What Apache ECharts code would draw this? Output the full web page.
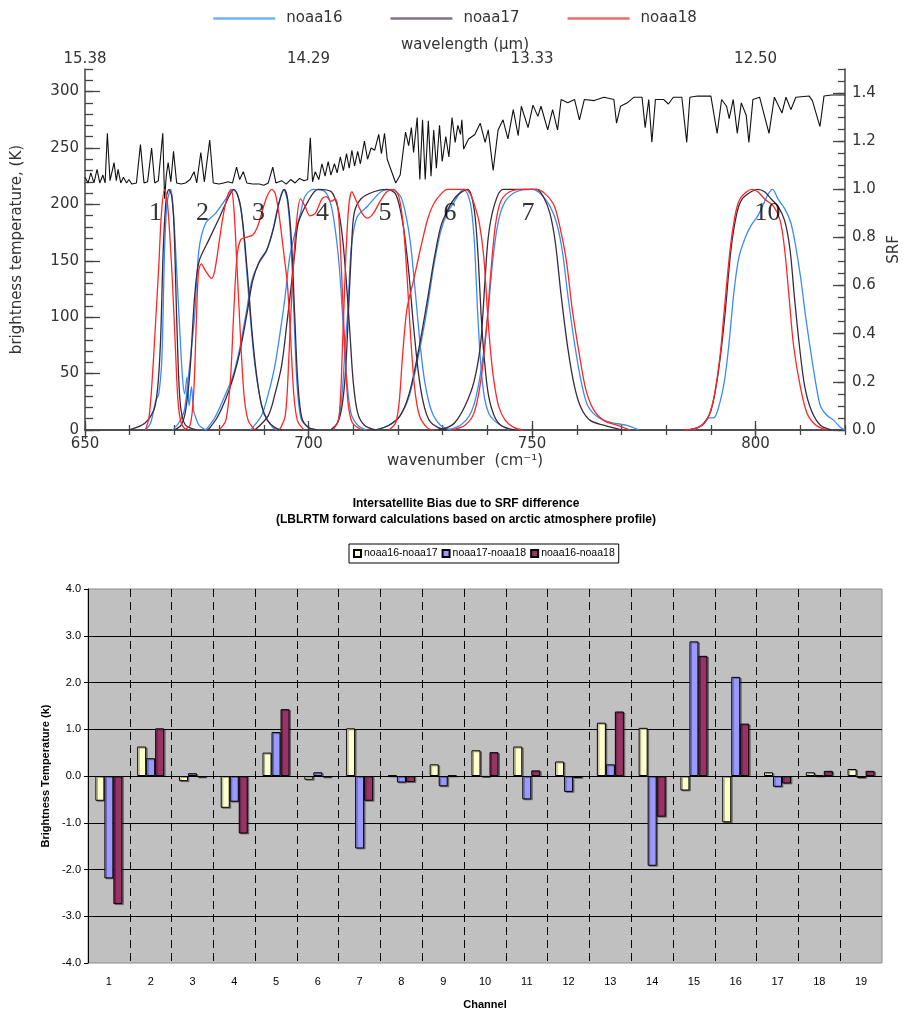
<!DOCTYPE html>
<html>
<head>
<meta charset="utf-8">
<title>HIRS SRF and intersatellite bias</title>
<script src="https://cdn.jsdelivr.net/npm/echarts@6/dist/echarts.min.js"></script>
<style>
  html, body { margin: 0; padding: 0; background: #fff; }
  #srf { width: 910px; height: 480px; }
  #bias { width: 910px; height: 535px; }
</style>
</head>
<body>
<div id="srf"></div>
<div id="bias"></div>
<script>
// ---- top panel: arctic brightness temperature spectrum, [wavenumber, K]
const btSpectrum = [
  [650,224],[650.7,219],[651.3,228],[652,219],[652.7,231],[653.3,219],[654,226],[654.5,219],[655,263],[655.6,221],
  [656.5,237],[657,221],[657.4,231],[658,219],[658.6,224],[659.3,219],[659.8,222],[660.5,218],[661.5,219],[662.4,253],
  [663.2,219],[664,220],[664.9,250],[665.6,219],[666.4,221],[667.4,263],[667.8,205],[668.2,226],[668.6,237],[669.2,220],
  [669.8,247],[670.5,219],[671.5,218],[672.5,219],[673.5,222],[674.4,229],[675,219],[675.9,246],[676.7,220],[677.9,257],
  [678.7,219],[680,218],[681,219],[682,220],[683,219],[683.9,233],[684.6,222],[685.4,229],[686.2,219],[687.5,218],
  [689,218],[690,217],[691,219],[692,233],[692.7,219],[694,221],[695,218],[696,222],[697,219],[698,223],
  [699,221],[699.8,222],[700.4,259],[700.9,220],[701.5,229],[702.3,222],[703,236],[703.7,225],[704.4,238],[705,226],
  [705.8,236],[706.4,228],[707.1,242],[707.8,230],[708.5,245],[709.1,232],[709.7,248],[710.3,234],[711,247],[711.6,236],
  [712.5,256],[713.2,240],[714,250],[714.8,248],[715.7,262],[716.3,245],[717,263],[717.6,240],[718.5,230],[719.5,219],
  [720.5,226],[721.7,264],[722.4,252],[723,268],[723.5,246],[724.3,277],[724.9,222],[725.5,275],[726.1,222],[726.8,274],
  [727.4,225],[728,266],[728.6,232],[729.3,270],[729.9,238],[730.7,260],[731.4,242],[732.1,277],[732.8,255],[733.4,270],
  [734,262],[734.3,275],[734.7,249],[735.8,258],[737.2,262],[738.4,272],[739.5,255],[740.2,266],[741.3,230],[742.4,266],
  [743.5,275],[744.6,258],[745.8,284],[746.9,261],[747.6,287],[749.1,268],[750.2,288],[751.3,278],[752,287],[753.5,266],
  [754.6,284],[755.7,266],[756.5,293],[758,290],[759.5,293],[760.6,275],[761.7,293],[763.9,292],[766.1,295],[768.3,293],
  [768.9,272],[769.8,287],[771.3,290],[772.8,295],[774.6,295],[775.3,268],[776.1,293],[776.8,255],[777.6,293],[779.4,293],
  [780.5,289],[781.6,295],[783.5,295],[784.6,255],[785.3,295],[787,296],[790,296],[791.4,263],[792.4,293],[793.5,287],
  [794.1,276],[795,293],[795.9,263],[796.8,290],[797.9,279],[798.5,255],[799.4,293],[800.9,295],[803,263],[804.2,295],
  [805.9,281],[806.8,295],[807.9,284],[809,295],[812,296],[812.7,292],[814.4,269],[815.3,296],[817,297],[820,297]
];

// ---- SRF curves, [wavenumber, response]
const n16c1 = [[663.5,0],[664.7,0.03],[665.8,0.12],[666.5,0.15],[667.2,0.3],[667.8,0.75],[668.4,0.95],[669.2,1],[669.8,0.9],[670.4,0.7],[671.1,0.45],[671.8,0.22],[672.3,0.15],[672.8,0.22],[673.3,0.1],[673.8,0.18],[674.3,0.08],[674.8,0.05],[675.5,0.02],[677,0]];
const n17c1 = [[659.8,0],[663.5,0.03],[665.7,0.1],[666.8,0.33],[667.5,0.75],[668.2,0.97],[668.8,1],[669.4,0.97],[669.9,0.85],[670.5,0.47],[671,0.2],[671.5,0.08],[672.5,0.02],[675,0]];
const n18c1 = [[663.5,0],[664.3,0.05],[665,0.2],[665.8,0.45],[666.5,0.68],[667.1,0.9],[667.8,1],[668.4,0.95],[669,0.8],[669.6,0.6],[670.2,0.35],[670.8,0.12],[671.5,0.03],[672.5,0]];

const n16c2 = [[669.6,0],[671,0.03],[672.2,0.08],[673,0.2],[674.5,0.47],[675.5,0.75],[677,0.86],[679.2,0.9],[681.5,0.96],[683,1],[684.1,0.98],[685.2,0.87],[686.3,0.63],[687.2,0.42],[688,0.27],[689.2,0.13],[690.3,0.06],[692,0.01],[693,0]];
const n17c2 = [[670,0],[671.5,0.02],[672.5,0.08],[673.5,0.25],[674.5,0.55],[675.5,0.7],[677.7,0.79],[680,0.88],[682.2,0.97],[683.3,1],[684.8,0.93],[686.3,0.66],[687.3,0.42],[688.3,0.24],[689.5,0.1],[690.8,0.04],[692.5,0.01],[694,0]];
const n18c2 = [[672,0],[673.5,0.02],[674.3,0.15],[674.9,0.45],[675.4,0.66],[676,0.69],[677,0.66],[678.3,0.63],[679,0.66],[680,0.78],[681,0.9],[682,0.98],[682.7,1],[683.3,0.92],[684,0.68],[684.8,0.38],[685.6,0.14],[686.5,0.04],[688,0]];

const n16c3 = [[677,0],[679,0.05],[681,0.13],[683,0.22],[684.5,0.33],[686,0.48],[687.3,0.62],[688.8,0.69],[690.5,0.74],[692,0.83],[693.3,0.94],[694.4,1],[695.2,0.96],[696,0.8],[696.7,0.5],[697.4,0.2],[698.3,0.05],[700,0.01],[702,0]];
const n17c3 = [[677.5,0],[679.5,0.05],[681.5,0.13],[683.2,0.22],[684.7,0.33],[686.2,0.48],[687.5,0.62],[689,0.7],[690.7,0.75],[692.2,0.84],[693.5,0.95],[694.6,1],[695.4,0.95],[696.2,0.78],[696.9,0.48],[697.6,0.2],[698.5,0.05],[700,0.01],[702,0]];
const n18c3 = [[680,0],[681.5,0.04],[682.5,0.2],[683.3,0.5],[684,0.72],[684.8,0.79],[686,0.8],[687.5,0.81],[688.5,0.84],[689.5,0.9],[690.7,0.97],[691.8,1],[692.6,0.98],[693.5,0.88],[694.5,0.73],[695.3,0.6],[696,0.38],[696.7,0.15],[697.5,0.04],[699,0]];

const n16c4 = [[687,0],[689.5,0.06],[691,0.15],[692.5,0.27],[694,0.45],[694.8,0.56],[695.8,0.72],[697,0.82],[698.2,0.9],[699.2,0.97],[701,1],[703.7,0.99],[705.1,0.93],[706.2,0.8],[707,0.65],[707.8,0.42],[708.6,0.2],[709.5,0.07],[711,0.02],[713,0]];
const n17c4 = [[688,0],[691,0.06],[692.5,0.15],[694,0.27],[695.2,0.45],[696.2,0.61],[697,0.75],[697.7,0.86],[699.9,0.95],[702.1,1],[705.1,0.99],[706.6,0.92],[707.6,0.8],[708.4,0.63],[709.2,0.42],[710,0.2],[711,0.07],[712.5,0.02],[715,0]];
const n18c4 = [[693.5,0],[694.8,0.06],[695.6,0.3],[696.4,0.62],[697.3,0.86],[698.2,0.96],[699.2,0.93],[700.3,0.89],[701.5,0.9],[703,0.96],[704,0.97],[705,0.95],[706,0.96],[706.7,0.9],[707.4,0.65],[708.1,0.35],[708.8,0.12],[709.8,0.03],[712,0]];

const n16c5 = [[705,0],[706.5,0.03],[707.5,0.15],[708.2,0.35],[708.8,0.5],[709.5,0.75],[710.2,0.84],[711,0.89],[713.2,0.93],[716.2,0.99],[718.4,1],[720.6,0.97],[721.9,0.88],[722.9,0.76],[724,0.55],[725,0.35],[726,0.2],[727.5,0.08],[729.5,0.02],[732,0]];
const n17c5 = [[705,0],[706.5,0.03],[707.5,0.1],[708.3,0.25],[709,0.52],[709.6,0.75],[710.2,0.9],[711.7,0.96],[714.6,0.99],[717.6,1],[719.5,0.98],[721,0.87],[722.3,0.68],[723.4,0.45],[724.5,0.25],[725.6,0.12],[727,0.04],[729,0.01],[731,0]];
const n18c5 = [[705.5,0],[706.8,0.05],[707.6,0.35],[708.3,0.7],[709,0.93],[709.7,0.99],[710.5,0.96],[712,0.9],[713.2,0.88],[714.5,0.9],[716,0.95],[717.5,0.99],[719,1],[720.2,0.97],[721.2,0.85],[722,0.65],[722.8,0.4],[723.7,0.18],[724.8,0.06],[726.5,0.01],[728,0]];

const n16c6 = [[715,0],[718,0.02],[720.5,0.06],[722.5,0.14],[724.5,0.3],[726.5,0.5],[728,0.68],[729.5,0.82],[731,0.9],[733,0.96],[734.6,1],[735.6,0.98],[736.4,0.92],[737.1,0.78],[737.8,0.5],[738.5,0.28],[739.3,0.14],[740.3,0.07],[741.5,0.04],[743,0.02],[745,0]];
const n17c6 = [[715,0],[718,0.02],[720.5,0.06],[722.5,0.15],[724.5,0.32],[726.5,0.53],[728,0.7],[729.5,0.84],[731,0.91],[733,0.97],[735.6,1],[736.5,0.97],[737.3,0.88],[738,0.7],[738.6,0.48],[739.3,0.3],[740.2,0.15],[741.5,0.06],[743,0.02],[746,0]];
const n18c6 = [[718,0],[719.5,0.03],[720.3,0.12],[721,0.3],[722,0.5],[723.6,0.63],[725,0.75],[726.7,0.88],[728,0.94],[729.6,0.98],[731,1],[735,1],[736.2,0.98],[737.2,0.93],[738.2,0.86],[739.2,0.72],[740,0.5],[740.7,0.33],[741.5,0.2],[742.5,0.1],[744,0.04],[746,0.01],[748,0]];

const n16c7 = [[731,0],[734,0.02],[736,0.06],[737.5,0.14],[739,0.3],[740.2,0.5],[741.3,0.72],[742.5,0.87],[744,0.95],[746.5,0.99],[750,1],[752,0.98],[754,0.93],[755.5,0.86],[756.8,0.74],[758,0.56],[759.5,0.36],[761,0.2],[762.5,0.1],[765,0.05],[768,0.03],[771,0.02],[774,0]];
const n17c7 = [[729,0],[731,0.01],[732.7,0.03],[735,0.1],[737,0.2],[738.5,0.36],[739.4,0.6],[740.2,0.8],[741.5,0.93],[743.5,1],[751,1],[752.5,0.97],[754,0.9],[755.2,0.78],[756.5,0.56],[758,0.34],[759.5,0.18],[761,0.09],[763,0.04],[766,0.02],[770,0]];
const n18c7 = [[732,0],[735,0.02],[737,0.07],[738.5,0.2],[739.8,0.42],[740.8,0.66],[741.8,0.85],[743,0.95],[745,0.99],[748,1],[751,1],[753,0.98],[755,0.93],[756.5,0.82],[757.7,0.7],[759,0.5],[760.7,0.3],[762,0.17],[763.6,0.09],[766,0.04],[769,0.02],[772,0]];

const n16c10 = [[786,0],[788,0.02],[789.5,0.05],[790.5,0.05],[791.5,0.08],[793,0.2],[794,0.35],[795.2,0.58],[796.3,0.72],[797.7,0.8],[799,0.85],[800.5,0.89],[801.8,0.94],[802.8,0.98],[803.8,1],[805,0.96],[806.5,0.92],[807.9,0.86],[809,0.76],[810.1,0.63],[811.2,0.47],[812.3,0.33],[813.5,0.19],[814.5,0.1],[816,0.06],[817.5,0.04],[819,0.01],[820,0]];
const n17c10 = [[785,0],[788,0.02],[790,0.08],[791.5,0.22],[793,0.45],[794.5,0.75],[795.8,0.9],[797,0.96],[799,0.99],[800.5,1],[802,0.99],[803.5,0.96],[805,0.93],[806.5,0.87],[807.7,0.75],[808.7,0.55],[809.8,0.35],[811,0.18],[812.5,0.08],[814.5,0.02],[817,0]];
const n18c10 = [[784,0],[787,0.01],[789,0.04],[790.5,0.12],[792,0.3],[793,0.5],[794.3,0.75],[795.5,0.9],[796.5,0.96],[798,0.99],[799.2,1],[800.5,0.99],[802,0.96],[804,0.93],[805.5,0.87],[806.5,0.75],[807.5,0.55],[808.5,0.35],[810,0.18],[811.5,0.07],[813.5,0.02],[816,0]];

// channel numbers written over the curves (wavenumber, SRF)
const chanNames = ['1', '2', '3', '4', '5', '6', '7', '10'];
const chanLabelWn = [665.75, 676.3, 688.8, 703.1, 717.1, 731.65, 749.1, 802.65];
const chanLabelSrf = 0.9;

// ---- bottom panel: bias per channel (K)
const channels = ['1','2','3','4','5','6','7','8','9','10','11','12','13','14','15','16','17','18','19'];
const bias16_17 = [-0.53, 0.63, -0.11, -0.68, 0.50, -0.08, 1.02, 0.01, 0.25, 0.55, 0.63, 0.31, 1.14, 1.03, -0.31, -0.99, 0.08, 0.08, 0.15];
const bias17_18 = [-2.19, 0.38, 0.06, -0.55, 0.94, 0.08, -1.55, -0.14, -0.22, -0.02, -0.50, -0.34, 0.25, -1.92, 2.88, 2.12, -0.23, 0.01, -0.04];
const bias16_18 = [-2.74, 1.02, -0.03, -1.23, 1.43, -0.03, -0.53, -0.13, 0.01, 0.51, 0.12, -0.04, 1.38, -0.87, 2.57, 1.12, -0.16, 0.11, 0.11];

// ================= top chart =================
const sats = [
  { name: 'noaa16', color: '#3a8cf2', legend: '#6cb4f6', curves: [n16c1, n16c2, n16c3, n16c4, n16c5, n16c6, n16c7, n16c10] },
  { name: 'noaa17', color: '#3a2a3c', legend: '#85718a', curves: [n17c1, n17c2, n17c3, n17c4, n17c5, n17c6, n17c7, n17c10] },
  { name: 'noaa18', color: '#ff2626', legend: '#f46a6a', curves: [n18c1, n18c2, n18c3, n18c4, n18c5, n18c6, n18c7, n18c10] }
];

const font = { fontFamily: 'DejaVu Sans', fontSize: 15, color: '#333' };
const frame = { show: true, lineStyle: { color: '#444', width: 1.5 } };
const tickStyle = { color: '#444', width: 1.3 };

function wnAxis(pos, major) {
  return {
    type: 'value', position: pos, min: 650, max: 820,
    interval: major ? 50 : 10,
    axisLine: major ? frame : { show: false },
    axisTick: { inside: true, length: major ? 9 : 5, lineStyle: tickStyle },
    axisLabel: { show: major, showMaxLabel: false, margin: pos === 'top' ? 2 : 7, ...font },
    splitLine: { show: false }
  };
}

const xTop = wnAxis('top', true);
xTop.axisLabel.formatter = (v) => (10000 / v).toFixed(2);
xTop.name = 'wavelength (\u00b5m)';
xTop.nameLocation = 'middle';
xTop.nameGap = 16;
xTop.nameMoveOverlap = false;
xTop.nameTextStyle = font;

const xBottom = wnAxis('bottom', true);
xBottom.name = 'wavenumber  (cm\u207b\u00b9)';
xBottom.nameLocation = 'middle';
xBottom.nameGap = 24;
xBottom.nameMoveOverlap = false;
xBottom.nameTextStyle = font;

const yAxes = [
  {
    type: 'value', position: 'left', min: 0, max: 320, interval: 50,
    axisLine: frame, axisTick: { inside: true, length: 15, lineStyle: tickStyle },
    axisLabel: { showMaxLabel: false, margin: 6, ...font }, splitLine: { show: false },
    name: 'brightness temperature, (K)', nameLocation: 'middle', nameGap: 60, nameTextStyle: font
  },
  {
    type: 'value', position: 'left', min: 0, max: 320, interval: 10,
    axisLine: { show: false }, axisTick: { inside: true, length: 8, lineStyle: tickStyle },
    axisLabel: { show: false }, splitLine: { show: false }
  },
  {
    type: 'value', position: 'right', min: 0, max: 1.5, interval: 0.2,
    axisLine: frame, axisTick: { inside: true, length: 12, lineStyle: tickStyle },
    axisLabel: { showMaxLabel: false, margin: 7, formatter: (v) => v.toFixed(1), ...font }, splitLine: { show: false },
    name: 'SRF', nameLocation: 'middle', nameGap: 42, nameTextStyle: font
  },
  {
    type: 'value', position: 'right', min: 0, max: 1.5, interval: 0.05,
    axisLine: { show: false }, axisTick: { inside: true, length: 7, lineStyle: tickStyle },
    axisLabel: { show: false }, splitLine: { show: false }
  }
];

const topSeries = [{
  type: 'line', name: 'spectrum', data: btSpectrum, xAxisIndex: 0, yAxisIndex: 0,
  symbol: 'none', lineStyle: { color: '#111', width: 1.1 }, z: 3
}];
sats.forEach((s) => {
  s.curves.forEach((c) => {
    topSeries.push({
      type: 'line', name: s.name, data: c, xAxisIndex: 0, yAxisIndex: 2,
      smooth: 0.3, symbol: 'none',
      lineStyle: { color: s.color, width: 1.3 }, itemStyle: { color: s.color }
    });
  });
});
topSeries.push({
  type: 'scatter', data: chanLabelWn.map((w, i) => [w, chanLabelSrf, chanNames[i]]),
  xAxisIndex: 0, yAxisIndex: 2, symbolSize: 1, itemStyle: { color: 'rgba(0,0,0,0)' }, z: 10,
  label: {
    show: true, position: 'inside', formatter: (p) => p.value[2],
    fontFamily: 'Liberation Serif', fontSize: 26, color: '#000'
  }
});

const srfChart = echarts.init(document.getElementById('srf'));
srfChart.setOption({
  animation: false,
  backgroundColor: '#fff',
  legend: {
    top: 6, left: 'center', icon: 'rect', itemWidth: 62, itemHeight: 2.5, itemGap: 48,
    selectedMode: false,
    textStyle: { ...font, padding: [0, 0, 0, 6] },
    data: sats.map((s) => ({ name: s.name, itemStyle: { color: s.legend } }))
  },
  grid: { left: 85, right: 59, top: 69, bottom: 50 },
  xAxis: [xBottom, wnAxis('bottom', false), xTop, wnAxis('top', false)],
  yAxis: yAxes,
  series: topSeries
});

// ================= bottom chart =================
const plain = { fontFamily: 'Liberation Sans', fontSize: 11, color: '#000' };
const bold = { ...plain, fontWeight: 'bold' };
const barStyle = (color) => ({
  color: color, borderColor: '#000', borderWidth: 1,
  shadowColor: 'rgba(0,0,0,0.35)', shadowOffsetX: 1.5, shadowOffsetY: 1
});

const biasChart = echarts.init(document.getElementById('bias'));
biasChart.setOption({
  animation: false,
  backgroundColor: '#fff',
  title: {
    text: 'Intersatellite Bias due to SRF difference\n(LBLRTM forward calculations based on arctic atmosphere profile)',
    left: 461, top: 11, textAlign: 'center',
    textStyle: { ...bold, fontSize: 12, lineHeight: 16 }
  },
  legend: {
    left: 349, top: 64, padding: [4, 4], borderColor: '#000', borderWidth: 1,
    icon: 'rect', itemWidth: 7, itemHeight: 7, itemGap: 4, selectedMode: false,
    textStyle: { ...plain, fontSize: 10.5, padding: [0, 0, 0, -2] }
  },
  grid: {
    left: 88, right: 28, top: 109, bottom: 50,
    show: true, backgroundColor: '#c0c0c0', borderColor: '#8a8a8a', borderWidth: 1
  },
  xAxis: {
    type: 'category', data: channels,
    axisLine: { show: false }, axisTick: { show: false },
    axisLabel: { ...plain, margin: 13, interval: 0 },
    splitLine: { show: true, interval: 0, showMinLine: false, showMaxLine: false,
      lineStyle: { color: '#000', width: 1, type: [8, 5] } },
    name: 'Channel', nameLocation: 'middle', nameGap: 36, nameTextStyle: bold
  },
  yAxis: {
    type: 'value', min: -4, max: 4, interval: 1,
    axisLine: { show: true, lineStyle: { color: '#000', width: 1 } },
    axisTick: { show: true, length: 4, lineStyle: { color: '#000' } },
    axisLabel: { ...plain, margin: 7, formatter: (v) => v.toFixed(1) },
    splitLine: { show: true, showMinLine: false, showMaxLine: false, lineStyle: { color: '#000', width: 1 } },
    name: 'Brightness Temperature (k)', nameLocation: 'middle', nameGap: 33, nameTextStyle: bold
  },
  series: [
    { type: 'bar', name: 'noaa16-noaa17', data: bias16_17, barWidth: 9, barGap: '0%', itemStyle: barStyle('#ffffcc') },
    { type: 'bar', name: 'noaa17-noaa18', data: bias17_18, barWidth: 9, barGap: '0%', itemStyle: barStyle('#9999ff') },
    { type: 'bar', name: 'noaa16-noaa18', data: bias16_18, barWidth: 9, barGap: '0%', itemStyle: barStyle('#993366') }
  ]
});
</script>
</body>
</html>
